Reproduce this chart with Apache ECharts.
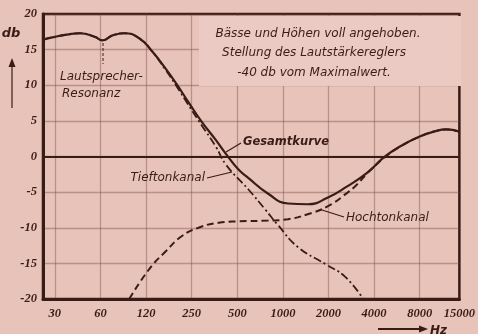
<!DOCTYPE html>
<html>
<head>
<meta charset="utf-8">
<script src="https://cdn.jsdelivr.net/npm/echarts@6/dist/echarts.min.js"></script>
<style>
  html, body { margin: 0; padding: 0; background: #e7c3ba; }
  #chart { width: 478px; height: 334px; }
</style>
</head>
<body>
<div id="chart"></div>
<script>
// Frequency axis: octaves above 30 Hz, one grid line per octave
const xTickLabels = ['30', '60', '120', '250', '500', '1000', '2000', '4000', '8000'];
const xEdgeLabel = '15000';
const yTicks = [-20, -15, -10, -5, 0, 5, 10, 15, 20];

// Gesamtkurve (overall response)
const gesamtHz = [25, 30, 36, 44, 55, 62, 72, 86, 108, 131, 162, 189, 229, 279, 344, 406, 487, 567, 764, 1040, 1400, 1890, 2550, 3450, 4470, 5690, 7680, 9910, 11500, 14000];
const gesamtDb = [16.4, 16.8, 17.1, 17.3, 16.8, 16.3, 17.0, 17.3, 16.6, 14.8, 12.3, 10.3, 7.6, 4.9, 2.4, 0.3, -1.8, -3.0, -5.2, -6.6, -6.7, -5.8, -4.2, -2.3, -0.1, 1.4, 2.8, 3.6, 3.8, 3.5];

// Tieftonkanal (bass channel)
const tiefHz = [25, 30, 36, 44, 55, 62, 72, 86, 108, 131, 162, 189, 229, 279, 344, 406, 567, 732, 889, 1206, 1832, 2476, 3250];
const tiefDb = [16.4, 16.8, 17.1, 17.3, 16.8, 16.3, 17.0, 17.3, 16.6, 14.8, 12.1, 10.0, 7.2, 4.4, 1.5, -1.2, -4.6, -7.4, -9.6, -12.7, -15.1, -16.9, -20];

// Hochtonkanal (treble channel)
const hochHz = [93, 126, 162, 206, 266, 361, 487, 764, 1036, 1400, 1893, 2553, 2970, 3448, 4470, 5690, 7680, 9910, 11540, 14000];
const hochDb = [-20, -15.8, -13.3, -11.2, -10.0, -9.3, -9.1, -9.0, -8.8, -8.1, -7.0, -5.1, -3.9, -2.4, -0.2, 1.4, 2.8, 3.6, 3.8, 3.5];

const X_MIN = -0.26, X_MAX = 8.87;
const oct = hz => Math.log2(hz / 30);
const pairs = (hz, db) => hz.map((h, i) => [oct(h), db[i]]);

const INK = '#3a1c16';
const GRID = 'rgba(120,70,60,0.40)';
const NARROW = 'Liberation Sans Narrow';

const chart = echarts.init(document.getElementById('chart'), null, { renderer: 'canvas' });

const tickValues = xTickLabels.map((_, i) => i);

chart.setOption({
  animation: false,
  backgroundColor: '#e7c3ba',
  grid: {
    left: 43, right: 15, top: 14, bottom: 35,
    show: true, borderColor: INK, borderWidth: 2.5, backgroundColor: 'transparent'
  },
  xAxis: {
    type: 'value', min: X_MIN, max: X_MAX,
    axisLine: { show: true, onZero: false, lineStyle: { color: INK, width: 3 } },
    axisTick: { show: false, customValues: tickValues },
    axisLabel: {
      customValues: tickValues.concat([X_MAX]),
      formatter: v => (v > 8.5 ? xEdgeLabel : (xTickLabels[Math.round(v)] || '')),
      color: INK, fontFamily: NARROW, fontStyle: 'italic', fontWeight: 'bold', fontSize: 12.5,
      margin: 8
    },
    splitLine: { show: true, lineStyle: { color: GRID, width: 1.3 } }
  },
  yAxis: {
    type: 'value', min: -20, max: 20, interval: 5,
    axisLine: { show: true, onZero: false, lineStyle: { color: INK, width: 3 } },
    axisTick: { show: false },
    axisLabel: {
      formatter: v => (yTicks.includes(v) ? String(v) : ''),
      color: INK, fontFamily: NARROW, fontStyle: 'italic', fontWeight: 'bold', fontSize: 12.5,
      margin: 6
    },
    splitLine: { show: true, lineStyle: { color: GRID, width: 1.3 } }
  },
  series: [
    {
      name: 'Tieftonkanal', type: 'line', data: pairs(tiefHz, tiefDb),
      smooth: 0.5, symbol: 'none', z: 3,
      lineStyle: { color: INK, width: 1.8, type: [8, 3, 2, 3] },
      // zero reference line
      markLine: {
        silent: true, symbol: 'none', label: { show: false },
        lineStyle: { color: INK, width: 2, type: 'solid' },
        data: [{ yAxis: 0 }]
      }
    },
    {
      name: 'Hochtonkanal', type: 'line', data: pairs(hochHz, hochDb),
      smooth: 0.5, symbol: 'none', z: 3,
      lineStyle: { color: INK, width: 2, type: [7, 4] }
    },
    {
      name: 'Gesamtkurve', type: 'line', data: pairs(gesamtHz, gesamtDb),
      smooth: 0.5, symbol: 'none', z: 4,
      lineStyle: { color: INK, width: 2.2 }
    }
  ],
  graphic: [
    // light panel behind the settings note
    { type: 'rect', z: 1, shape: { x: 199, y: 16, width: 262, height: 70 }, style: { fill: '#eacac2' } },
    { type: 'text', z: 5, x: 318, y: 34, style: { text: 'Bässe und Höhen voll angehoben.', font: 'italic 12px "DejaVu Sans"', fill: INK, align: 'center', verticalAlign: 'middle' } },
    { type: 'text', z: 5, x: 314, y: 53, style: { text: 'Stellung des Lautstärkereglers', font: 'italic 12px "DejaVu Sans"', fill: INK, align: 'center', verticalAlign: 'middle' } },
    { type: 'text', z: 5, x: 314, y: 73, style: { text: '-40 db vom Maximalwert.', font: 'italic 12px "DejaVu Sans"', fill: INK, align: 'center', verticalAlign: 'middle' } },

    // loudspeaker resonance note
    { type: 'line', z: 5, shape: { x1: 103, y1: 43, x2: 103, y2: 64 }, style: { stroke: INK, lineWidth: 1, lineDash: [3, 2] } },
    { type: 'text', z: 5, x: 60, y: 77, style: { text: 'Lautsprecher-', font: 'italic 12px "DejaVu Sans"', fill: INK, align: 'left', verticalAlign: 'middle' } },
    { type: 'text', z: 5, x: 62, y: 94, style: { text: 'Resonanz', font: 'italic 12px "DejaVu Sans"', fill: INK, align: 'left', verticalAlign: 'middle' } },

    // curve labels with leader lines
    { type: 'text', z: 5, x: 243, y: 142, style: { text: 'Gesamtkurve', font: 'italic bold 11.5px "DejaVu Sans"', fill: INK, align: 'left', verticalAlign: 'middle' } },
    { type: 'line', z: 5, shape: { x1: 241, y1: 143, x2: 226, y2: 152 }, style: { stroke: INK, lineWidth: 1.2 } },
    { type: 'text', z: 5, x: 205, y: 178, style: { text: 'Tieftonkanal', font: 'italic 12px "DejaVu Sans"', fill: INK, align: 'right', verticalAlign: 'middle' } },
    { type: 'line', z: 5, shape: { x1: 207, y1: 178, x2: 232, y2: 172 }, style: { stroke: INK, lineWidth: 1.2 } },
    { type: 'text', z: 5, x: 346, y: 218, style: { text: 'Hochtonkanal', font: 'italic 12px "DejaVu Sans"', fill: INK, align: 'left', verticalAlign: 'middle' } },
    { type: 'line', z: 5, shape: { x1: 344, y1: 217, x2: 322, y2: 210 }, style: { stroke: INK, lineWidth: 1.2 } },

    // level axis caption
    { type: 'text', z: 5, x: 11, y: 34, style: { text: 'db', font: 'italic bold 13px "DejaVu Sans"', fill: INK, align: 'center', verticalAlign: 'middle' } },
    { type: 'polygon', z: 5, shape: { points: [[12, 58], [8.5, 67], [15.5, 67]] }, style: { fill: INK } },
    { type: 'line', z: 5, shape: { x1: 12, y1: 67, x2: 12, y2: 108 }, style: { stroke: 'rgba(90,50,40,0.7)', lineWidth: 2 } },

    // frequency axis caption
    { type: 'line', z: 5, shape: { x1: 378, y1: 329, x2: 420, y2: 329 }, style: { stroke: INK, lineWidth: 2 } },
    { type: 'polygon', z: 5, shape: { points: [[428, 329], [419, 325.5], [419, 332.5]] }, style: { fill: INK } },
    { type: 'text', z: 5, x: 430, y: 331, style: { text: 'Hz', font: 'italic bold 12px "DejaVu Sans"', fill: INK, align: 'left', verticalAlign: 'middle' } }
  ]
});
</script>
</body>
</html>
